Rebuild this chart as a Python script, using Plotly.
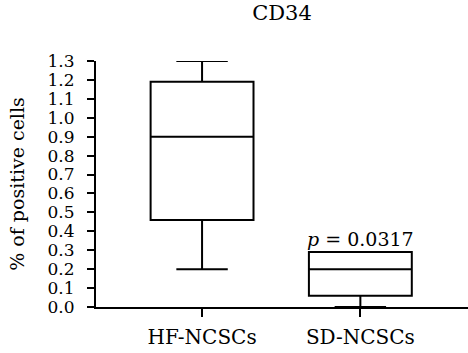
import plotly.graph_objects as go

categories = ["HF-NCSCs", "SD-NCSCs"]
lower_fence = [0.20, 0.00]
q1_vals = [0.46, 0.06]
median_vals = [0.90, 0.20]
q3_vals = [1.19, 0.29]
upper_fence = [1.30, 0.29]
y_ticks = [round(i * 0.1, 1) for i in range(14)]
p_label = "<i>p</i> = 0.0317"

FONT = "DejaVu Serif"

fig = go.Figure()
for i, c in enumerate(categories):
    fig.add_trace(go.Box(
        x=[c], q1=[q1_vals[i]], median=[median_vals[i]], q3=[q3_vals[i]],
        lowerfence=[lower_fence[i]], upperfence=[upper_fence[i]],
        width=0.65, whiskerwidth=0.5, boxpoints=False,
        fillcolor="white", line=dict(color="black", width=2),
        showlegend=False, hoverinfo="skip",
    ))

fig.add_annotation(x=categories[1], y=q3_vals[1], text=p_label, showarrow=False,
                   yanchor="bottom", yshift=0, font=dict(family=FONT, size=19, color="black"))

fig.update_layout(
    width=468, height=353,
    margin=dict(l=96, r=0, t=61, b=46),
    paper_bgcolor="white", plot_bgcolor="white",
    title=dict(text="CD34", x=0.5, xref="paper", y=0.963, yanchor="middle",
               font=dict(family=FONT, size=21, color="black")),
    font=dict(family=FONT, color="black"),
)
fig.update_xaxes(
    type="category", range=[-0.67, 1.68],
    showline=True, linecolor="black", linewidth=2,
    ticks="outside", ticklen=8, tickwidth=2, tickcolor="black",
    ticklabelstandoff=3,
    tickfont=dict(family=FONT, size=20, color="black"),
    showgrid=False, zeroline=False,
)
fig.update_yaxes(
    range=[0, 1.3], tickvals=y_ticks, tickformat=".1f",
    showline=True, linecolor="black", linewidth=2,
    ticks="outside", ticklen=7, tickwidth=2, tickcolor="black",
    ticklabelstandoff=9,
    tickfont=dict(family=FONT, size=17, color="black"),
    showgrid=False, zeroline=False,
    title=dict(text="% of positive cells", standoff=18,
               font=dict(family=FONT, size=19, color="black")),
)

fig.write_html("out.html")
